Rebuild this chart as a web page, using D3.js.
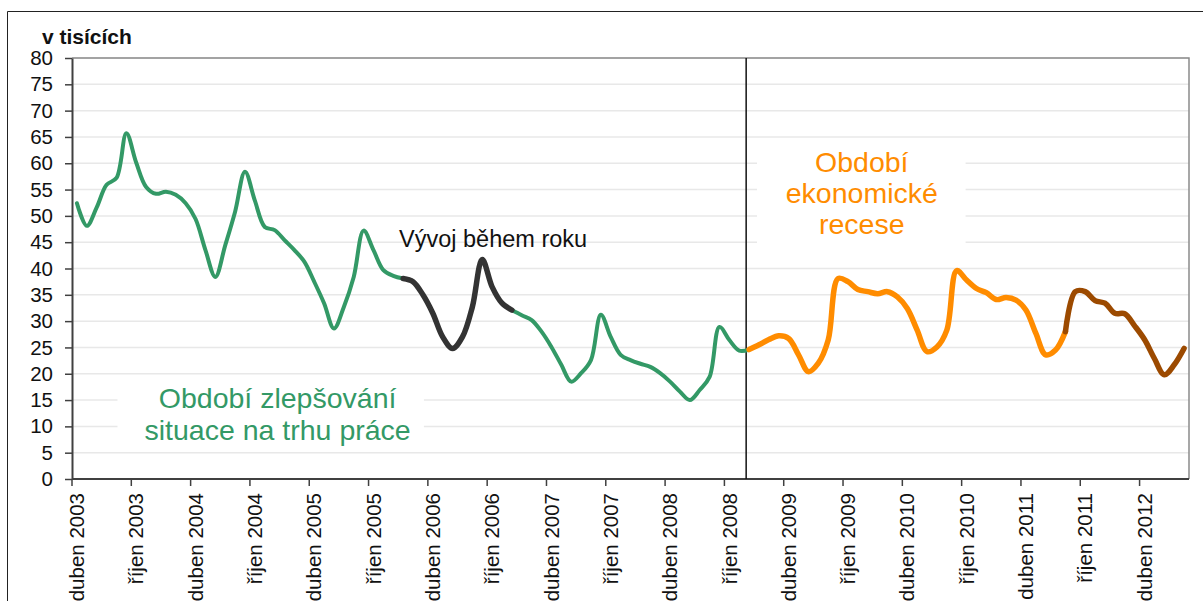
<!DOCTYPE html>
<html lang="cs">
<head>
    <meta charset="utf-8">

    <title>Nezaměstnanost – v tisících</title>

    <style>

        body {
            margin: 0;
            background: #fff;
        }

        svg text {
            font-family: "Liberation Sans", Arial, sans-serif;
        }

        .grid line {
            stroke: #e8e8e8;
            stroke-width: 1.5px;
        }

        .axis path,
        .axis line {
            stroke: #404040;
        }

        .series {
            fill: none;
            stroke-linecap: round;
            stroke-linejoin: round;
        }

    </style>

</head>

<body>

<!-- load the d3.js library -->
<script src="https://d3js.org/d3.v7.min.js"></script>

<script>
  // monthly values, duben 2003 .. srpen 2012 (in thousands)
  const values = [
    52.4, 48.1, 51.6, 55.9, 57.2, 65.7, 60.1, 55.5, 54.2, 54.6, 54.0, 52.4,
    49.4, 43.5, 38.4, 44.4, 50.8, 58.4, 52.9, 47.9, 47.3, 45.4, 43.5, 41.3,
    37.5, 33.4, 28.6, 32.7, 38.4, 47.2, 43.5, 39.7, 38.6, 38.1, 37.5, 35.0,
    31.5, 27.0, 24.8, 27.0, 32.7, 41.7, 36.5, 33.4, 32.1, 31.1, 30.2, 28.0,
    25.1, 21.7, 18.5, 20.1, 22.6, 31.2, 27.0, 23.6, 22.6, 21.9, 21.3, 20.1,
    18.5, 16.6, 15.0, 16.9, 19.4, 28.9, 26.4, 24.4, 24.6, 25.5, 26.5, 27.2,
    26.7, 23.6, 20.4, 22.0, 26.4, 38.1, 37.5, 36.0, 35.6, 35.2, 35.6, 34.6,
    32.4, 28.3, 24.2, 25.1, 28.3, 39.6, 37.8, 36.2, 35.4, 34.1, 34.5, 34.0,
    32.1, 27.7, 23.6, 24.5, 28.0, 35.6, 35.6, 33.9, 33.4, 31.5, 31.4, 29.1,
    26.5, 22.9, 19.8, 21.7, 24.8
  ];

  const tickLabels = [
    "duben 2003", "říjen 2003", "duben 2004", "říjen 2004", "duben 2005",
    "říjen 2005", "duben 2006", "říjen 2006", "duben 2007", "říjen 2007",
    "duben 2008", "říjen 2008", "duben 2009", "říjen 2009", "duben 2010",
    "říjen 2010", "duben 2011", "říjen 2011", "duben 2012"
  ];

  // month index ranges of the coloured pieces
  const improving1 = [0, 33],
    yearPiece = [33, 44],
    improving2 = [44, 68],
    recession = [68, 100],
    lastYear = [100, 112];

  const recessionStart = 68.2;
  const yTicks = d3.range(0, 81, 5);

  const width = 1203,
    height = 601,
    margin = {top: 58, right: 14, bottom: 122, left: 72};

  const svg = d3.select("body").append("svg")
    .attr("width", width)
    .attr("height", height);

  // outer frame
  svg.append("path")
    .attr("d", `M7.5,${height} V11.5 H${width}`)
    .attr("fill", "none")
    .attr("stroke", "#222")
    .attr("stroke-width", 1);

  const x = d3.scaleLinear()
    .domain([0, values.length])
    .range([margin.left, width - margin.right]);

  const y = d3.scaleLinear()
    .domain([0, 80])
    .range([height - margin.bottom, margin.top]);

  // gridlines
  svg.append("g")
    .attr("class", "grid")
    .selectAll("line")
    .data(yTicks.slice(1))
    .join("line")
    .attr("x1", x(0))
    .attr("x2", x(values.length))
    .attr("y1", d => y(d))
    .attr("y2", d => y(d));

  // plot border, top and right
  svg.append("path")
    .attr("d", `M${x(0)},${y(80)} H${x(values.length)} V${y(0)}`)
    .attr("fill", "none")
    .attr("stroke", "#8a8a8a")
    .attr("stroke-width", 1.5);

  // white boxes behind the period labels
  svg.append("rect")
    .attr("x", x(4.6)).attr("width", x(35.6) - x(4.6))
    .attr("y", y(18.8)).attr("height", y(6.2) - y(18.8))
    .attr("fill", "#fff");

  svg.append("rect")
    .attr("x", x(69.3)).attr("width", x(90.4) - x(69.3))
    .attr("y", y(64.2)).attr("height", y(44.4) - y(64.2))
    .attr("fill", "#fff");

  // y axis
  const yAxis = svg.append("g")
    .attr("class", "axis")
    .attr("transform", `translate(${x(0)},0)`)
    .call(d3.axisLeft(y).tickValues(yTicks).tickSize(7).tickPadding(12).tickSizeOuter(0));

  yAxis.select(".domain").attr("stroke-width", 2);
  yAxis.selectAll("line").attr("stroke-width", 1.5);
  yAxis.selectAll("text")
    .attr("fill", "#111")
    .style("font-size", "20.5px");

  // x axis
  const tickIdx = tickLabels.map((d, i) => i * 6);

  const xAxis = svg.append("g")
    .attr("class", "axis")
    .attr("transform", `translate(0,${y(0)})`);

  xAxis.append("line")
    .attr("x1", x(0)).attr("x2", x(values.length))
    .attr("y1", 0).attr("y2", 0)
    .attr("stroke-width", 2);

  xAxis.selectAll(".tick")
    .data(tickIdx)
    .join("line")
    .attr("class", "tick")
    .attr("x1", d => x(d)).attr("x2", d => x(d))
    .attr("y1", 0).attr("y2", 7)
    .attr("stroke-width", 1.5);

  xAxis.selectAll(".label")
    .data(tickIdx)
    .join("text")
    .attr("class", "label")
    .attr("transform", d => `translate(${x(d + 0.5)},14) rotate(-90)`)
    .attr("text-anchor", "end")
    .attr("dy", "0.35em")
    .attr("fill", "#111")
    .style("font-size", "20.5px")
    .text((d, i) => tickLabels[i]);

  // axis title
  svg.append("text")
    .attr("x", 42)
    .attr("y", 44)
    .attr("font-weight", "bold")
    .attr("fill", "#111")
    .style("font-size", "21px")
    .text("v tisících");

  // recession marker
  svg.append("line")
    .attr("x1", x(recessionStart)).attr("x2", x(recessionStart))
    .attr("y1", y(80)).attr("y2", y(0))
    .attr("stroke", "#111")
    .attr("stroke-width", 1.5);

  // smoothed lines
  const line = d3.line()
    .x(d => x(d.i + 0.5))
    .y(d => y(d.v))
    .curve(d3.curveCatmullRom.alpha(0.5));

  function piece(range) {
    return values.slice(range[0], range[1] + 1)
      .map((v, k) => ({i: range[0] + k, v: v}));
  }

  const pieces = [
    {range: improving1, color: "#339966", w: 4},
    {range: improving2, color: "#339966", w: 4},
    {range: yearPiece, color: "#333333", w: 5.5},
    {range: recession, color: "#ff8c00", w: 5.5},
    {range: lastYear, color: "#9c4a00", w: 5.5}
  ];

  svg.selectAll("path.series")
    .data(pieces)
    .join("path")
    .attr("class", "series")
    .attr("stroke", d => d.color)
    .attr("stroke-width", d => d.w)
    .attr("d", d => line(piece(d.range)));

  // annotations
  const green = svg.append("text")
    .attr("text-anchor", "middle")
    .attr("fill", "#339966")
    .style("font-size", "28.5px");
  green.append("tspan").attr("x", x(20.8)).attr("y", 408).text("Období zlepšování");
  green.append("tspan").attr("x", x(20.8)).attr("y", 440).text("situace na trhu práce");

  const orange = svg.append("text")
    .attr("text-anchor", "middle")
    .attr("fill", "#ff8c00")
    .style("font-size", "28.5px");
  ["Období", "ekonomické", "recese"].forEach(function(t, k) {
    orange.append("tspan").attr("x", x(79.9)).attr("y", 172 + k * 31).text(t);
  });

  svg.append("text")
    .attr("x", 399)
    .attr("y", 247)
    .attr("fill", "#111")
    .style("font-size", "23.5px")
    .text("Vývoj během roku");

</script>

</body>
</html>
